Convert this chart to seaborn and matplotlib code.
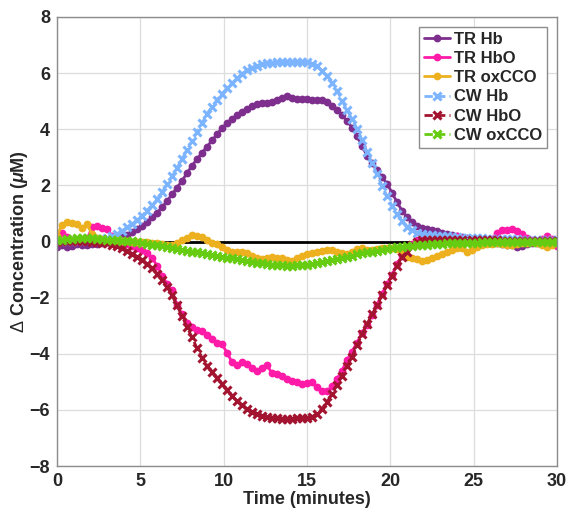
import numpy as np
import pandas as pd
import matplotlib
matplotlib.use("Agg")
import matplotlib.pyplot as plt
import seaborn as sns

# Sample times (minutes), one reading every 0.3 min
time = np.round(np.arange(101) * 0.3, 1)

tr_hb = [
    -0.20, -0.12, -0.18, -0.15, -0.10, -0.14, -0.12, -0.08, -0.10, -0.05,
    -0.02, 0.02, 0.08, 0.15, 0.24, 0.34, 0.44, 0.56, 0.70, 0.86,
    1.02, 1.22, 1.44, 1.68, 1.92, 2.16, 2.44, 2.70, 2.94, 3.16,
    3.38, 3.60, 3.82, 4.04, 4.22, 4.36, 4.50, 4.60, 4.72, 4.82,
    4.90, 4.95, 4.93, 4.98, 5.04, 5.10, 5.20, 5.10, 5.08, 5.08,
    5.07, 5.06, 5.06, 5.04, 4.96, 4.84, 4.70, 4.50, 4.30, 4.06,
    3.76, 3.40, 3.06, 2.80, 2.54, 2.30, 2.06, 1.74, 1.40, 1.10,
    0.86, 0.68, 0.56, 0.48, 0.44, 0.40, 0.36, 0.32, 0.28, 0.24,
    0.20, 0.16, 0.13, 0.10, 0.06, 0.04, 0.02, -0.02, -0.06, -0.08,
    -0.12, -0.14, -0.18, -0.15, -0.10, -0.06, -0.05, -0.02, 0.00, -0.02,
    0.02,
]

tr_hbo = [
    0.10, 0.30, 0.15, 0.05, 0.02, 0.05, 0.08, 0.50, 0.57, 0.48,
    0.46, 0.20, 0.05, 0.00, -0.08, -0.16, -0.24, -0.32, -0.42, -0.58,
    -0.86, -1.22, -1.50, -1.74, -2.26, -2.60, -2.90, -3.04, -3.14, -3.20,
    -3.32, -3.46, -3.60, -3.66, -3.96, -4.30, -4.40, -4.30, -4.36, -4.50,
    -4.60, -4.52, -4.40, -4.70, -4.72, -4.80, -4.90, -4.96, -5.02, -5.08,
    -5.04, -5.02, -5.20, -5.32, -5.34, -5.16, -4.90, -4.60, -4.22, -3.92,
    -3.60, -3.26, -2.96, -2.62, -2.26, -1.86, -1.52, -1.20, -0.80, -0.50,
    -0.26, -0.08, 0.04, 0.10, 0.06, 0.04, 0.08, 0.10, 0.12, 0.16,
    0.20, 0.14, 0.08, 0.06, 0.04, 0.02, 0.04, 0.10, 0.30, 0.40,
    0.42, 0.44, 0.36, 0.28, 0.12, 0.04, 0.02, 0.08, 0.18, 0.10,
    -0.15,
]

tr_oxcco = [
    0.20, 0.60, 0.68, 0.66, 0.62, 0.48, 0.62, 0.26, 0.12, 0.08,
    0.06, 0.04, 0.04, 0.02, 0.02, 0.00, 0.00, -0.02, -0.02, -0.04,
    -0.06, -0.10, -0.14, -0.12, -0.04, 0.06, 0.12, 0.22, 0.18, 0.16,
    0.06, -0.04, -0.10, -0.20, -0.32, -0.36, -0.38, -0.38, -0.40, -0.50,
    -0.60, -0.62, -0.58, -0.56, -0.58, -0.60, -0.66, -0.68, -0.60, -0.52,
    -0.44, -0.40, -0.38, -0.34, -0.32, -0.32, -0.36, -0.40, -0.44, -0.36,
    -0.26, -0.24, -0.30, -0.32, -0.28, -0.24, -0.22, -0.22, -0.26, -0.40,
    -0.54, -0.60, -0.64, -0.68, -0.66, -0.58, -0.50, -0.44, -0.38, -0.32,
    -0.24, -0.22, -0.38, -0.30, -0.18, -0.14, -0.10, -0.08, -0.07, -0.10,
    -0.12, -0.14, -0.10, -0.06, -0.04, -0.03, -0.06, -0.12, -0.20, -0.12,
    -0.07,
]

cw_hb = [
    0.00, 0.02, 0.03, 0.02, 0.03, 0.04, 0.03, 0.05, 0.07, 0.09,
    0.13, 0.20, 0.28, 0.38, 0.50, 0.62, 0.76, 0.92, 1.10, 1.30,
    1.50, 1.76, 2.04, 2.32, 2.62, 2.94, 3.26, 3.58, 3.90, 4.22,
    4.54, 4.80, 5.04, 5.26, 5.46, 5.64, 5.82, 5.98, 6.10, 6.20,
    6.27, 6.32, 6.35, 6.37, 6.38, 6.38, 6.39, 6.38, 6.38, 6.39,
    6.38, 6.34, 6.24, 6.08, 5.90, 5.66, 5.38, 5.02, 4.68, 4.36,
    4.02, 3.62, 3.20, 2.80, 2.40, 1.98, 1.62, 1.28, 0.98, 0.72,
    0.52, 0.40, 0.32, 0.27, 0.24, 0.22, 0.21, 0.19, 0.18, 0.16,
    0.15, 0.14, 0.13, 0.12, 0.11, 0.11, 0.10, 0.10, 0.09, 0.09,
    0.08, 0.08, 0.08, 0.07, 0.07, 0.07, 0.06, 0.06, 0.06, 0.05,
    0.05,
]

cw_hbo = [
    0.00, 0.02, 0.03, 0.03, 0.02, 0.02, 0.01, 0.00, -0.02, -0.04,
    -0.07, -0.11, -0.16, -0.24, -0.34, -0.44, -0.54, -0.66, -0.80, -0.96,
    -1.14, -1.36, -1.62, -1.92, -2.28, -2.66, -3.04, -3.42, -3.80, -4.14,
    -4.42, -4.66, -4.88, -5.08, -5.30, -5.50, -5.68, -5.84, -5.96, -6.06,
    -6.14, -6.20, -6.25, -6.28, -6.30, -6.31, -6.31, -6.31, -6.30, -6.30,
    -6.28, -6.24, -6.14, -5.96, -5.72, -5.42, -5.10, -4.78, -4.44, -4.10,
    -3.70, -3.30, -2.94, -2.60, -2.28, -1.92, -1.56, -1.22, -0.86, -0.54,
    -0.36, -0.14, -0.02, 0.04, 0.06, 0.06, 0.05, 0.05, 0.05, 0.04,
    0.04, 0.04, 0.03, 0.04, 0.04, 0.05, 0.05, 0.04, 0.04, 0.03,
    0.03, 0.03, 0.03, 0.02, 0.02, 0.02, 0.03, 0.03, 0.02, 0.02,
    0.02,
]

cw_oxcco = [
    0.05, 0.06, 0.08, 0.10, 0.12, 0.13, 0.12, 0.11, 0.09, 0.08,
    0.06, 0.05, 0.04, 0.03, 0.02, 0.01, -0.02, -0.05, -0.08, -0.11,
    -0.14, -0.17, -0.20, -0.23, -0.26, -0.30, -0.33, -0.36, -0.39, -0.42,
    -0.45, -0.48, -0.51, -0.54, -0.57, -0.60, -0.63, -0.66, -0.69, -0.72,
    -0.75, -0.78, -0.80, -0.82, -0.84, -0.85, -0.86, -0.86, -0.85, -0.84,
    -0.82, -0.79, -0.76, -0.73, -0.70, -0.66, -0.62, -0.58, -0.54, -0.50,
    -0.46, -0.42, -0.39, -0.36, -0.33, -0.30, -0.27, -0.24, -0.21, -0.19,
    -0.17, -0.15, -0.13, -0.12, -0.11, -0.10, -0.09, -0.08, -0.07, -0.06,
    -0.06, -0.05, -0.05, -0.04, -0.04, -0.03, -0.03, -0.03, -0.03, -0.03,
    -0.03, -0.03, -0.03, -0.03, -0.03, -0.03, -0.03, -0.03, -0.03, -0.03,
    -0.03,
]

series_names = ["TR Hb", "TR HbO", "TR oxCCO", "CW Hb", "CW HbO", "CW oxCCO"]
series_values = [tr_hb, tr_hbo, tr_oxcco, cw_hb, cw_hbo, cw_oxcco]
colors = ["#7E2F8E", "#FF1AA8", "#EDB120", "#7DB4FF", "#A2142F", "#66CC11"]

x_ticks = [0, 5, 10, 15, 20, 25, 30]
y_ticks = [-8, -6, -4, -2, 0, 2, 4, 6, 8]

sns.set_style("whitegrid", {"grid.color": "#DDDDDD", "axes.edgecolor": "#8C8C8C"})
plt.rcParams["font.family"] = ["Liberation Sans", "DejaVu Sans"]
plt.rcParams["mathtext.fontset"] = "custom"
plt.rcParams["mathtext.rm"] = "Liberation Sans"
plt.rcParams["mathtext.it"] = "Liberation Sans:italic:bold"
plt.rcParams["mathtext.bf"] = "Liberation Sans:bold"

frames = []
for name, vals in zip(series_names, series_values):
    frames.append(pd.DataFrame({"time": time, "value": vals, "series": name}))
df = pd.concat(frames, ignore_index=True)

fig = plt.figure(figsize=(5.77, 5.12), dpi=100)
ax = fig.add_axes([0.0988, 0.0898, 0.8666, 0.877])

# zero reference line
ax.axhline(0, color="black", lw=2.0, zorder=1.5)

for name, color in zip(series_names, colors):
    sub = df[df["series"] == name]
    if name.startswith("TR"):
        sns.lineplot(data=sub, x="time", y="value", ax=ax, color=color,
                     marker="o", markersize=5.6, markeredgewidth=0,
                     markeredgecolor=color, markerfacecolor=color,
                     linestyle="-", linewidth=2, label=name, sort=False,
                     zorder=2)
    else:
        sns.lineplot(data=sub, x="time", y="value", ax=ax, color=color,
                     marker="x", markersize=6, markeredgewidth=2.2,
                     markeredgecolor=color, markerfacecolor=color,
                     linestyle=(0, (3, 1.5)), linewidth=2, label=name,
                     sort=False, zorder=2)

ax.set_xlim(0, 30)
ax.set_ylim(-8, 8)
ax.set_xticks(x_ticks)
ax.set_yticks(y_ticks)
ax.grid(True, color="#DDDDDD", linewidth=0.9)
ax.tick_params(length=0, labelsize=13, pad=5)
for lab in ax.get_xticklabels() + ax.get_yticklabels():
    lab.set_fontweight("bold")
for sp in ax.spines.values():
    sp.set_color("#8C8C8C")
    sp.set_linewidth(1.0)

ax.set_xlabel("Time (minutes)", fontsize=13, fontweight="bold", labelpad=1)
ax.set_ylabel(r"$\Delta$ Concentration ($\mu$M)", fontsize=13,
              fontweight="bold", labelpad=0)

leg = ax.legend(loc="upper right", fontsize=12, frameon=True, fancybox=False,
                framealpha=1, edgecolor="#8C8C8C", borderpad=0.3,
                labelspacing=0.25, handlelength=1.6, handletextpad=0.2,
                borderaxespad=0.6)
leg.get_frame().set_linewidth(1.0)
for t in leg.get_texts():
    t.set_fontweight("bold")

fig.savefig("out.png", dpi=100)
